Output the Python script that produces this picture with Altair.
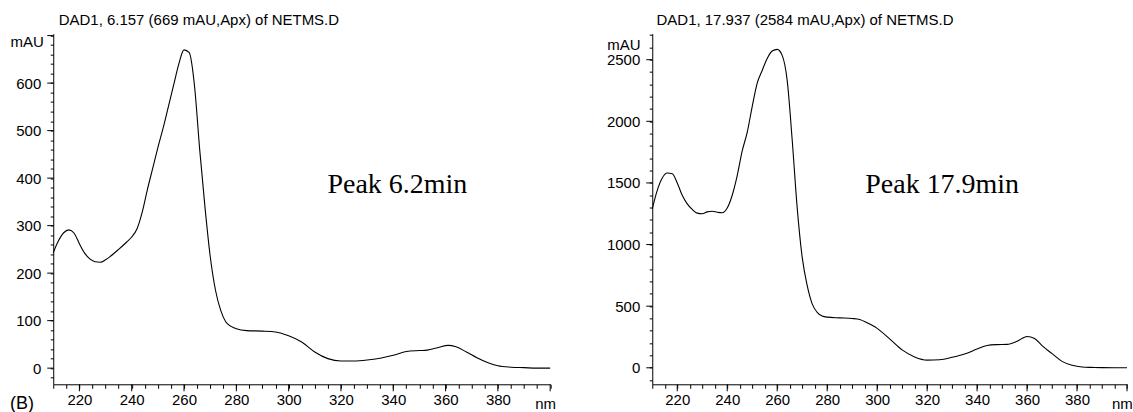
import altair as alt
import pandas as pd

# ---- data ----
nm_left = [210, 212, 214, 216, 218, 220, 222, 224, 226, 228, 230, 232, 235, 238, 240,
           242, 244, 246, 248, 250, 252, 254, 256, 258, 260, 262, 264, 266, 268, 270,
           272, 274, 276, 278, 280, 284, 290, 295, 300, 305, 310, 315, 320, 325, 330,
           335, 340, 345, 350, 353, 357, 361, 364, 368, 372, 376, 380, 385, 390, 395, 400]
mau_left = [243, 268, 285, 291, 284, 262, 242, 230, 224, 223, 228, 236, 250, 265, 276,
            293, 328, 376, 420, 464, 505, 550, 595, 640, 670, 664, 595, 460, 340, 236,
            165, 122, 97, 88, 83, 79, 78, 76, 68, 55, 34, 20, 15, 15, 17,
            21, 27, 35, 37, 38, 43, 48, 45, 34, 22, 12, 5, 2, 1, 0, 0]

nm_right = [210, 212, 214, 216, 218, 220, 222, 224, 226, 228, 230, 232, 234, 236, 238,
            240, 242, 244, 246, 248, 250, 252, 254, 256, 258, 260, 262, 264, 266, 268,
            270, 272, 274, 276, 278, 280, 285, 290, 293, 296, 300, 305, 310, 315, 320,
            325, 330, 335, 340, 344, 348, 352, 356, 360, 363, 366, 370, 374, 378, 382,
            386, 390, 395, 400]
mau_right = [1290, 1440, 1540, 1580, 1575, 1500, 1400, 1330, 1285, 1255, 1250, 1265, 1270, 1262, 1258,
             1296, 1400, 1560, 1760, 1910, 2120, 2310, 2413, 2510, 2570, 2584, 2535, 2332, 1850, 1300,
             898, 668, 519, 450, 420, 411, 405, 400, 392, 365, 320, 235, 145, 88, 62,
             65, 85, 112, 152, 181, 188, 190, 215, 254, 238, 180, 115, 52, 20, 6,
             3, 1, 0, 0]

titles = ["DAD1, 6.157 (669 mAU,Apx) of NETMS.D", "DAD1, 17.937 (2584 mAU,Apx) of NETMS.D"]
peaks = ["Peak 6.2min", "Peak 17.9min"]
y_unit = ["mAU"]
x_unit = ["nm"]
panel_tag = ["(B)"]

# tick positions (minor) and labelled / long ticks (major)
x_ticks = list(range(210, 401, 5))
x_major = list(range(220, 401, 20))
y_ticks_left = list(range(-20, 701, 20))
y_major_left = list(range(0, 701, 100))
y_ticks_right = list(range(-100, 2701, 100))
y_major_right = list(range(0, 2501, 500))

H = 351
W1 = 497.5
W2 = 475.3
SANS = "Liberation Sans"
SERIF = "Liberation Serif"
TICK = "black"


def one_row(key, value):
    return pd.DataFrame({key: [value]})


def panel(nm, mau, ydom, yticks, ymajor_vals, ymajor, ylabel_max, title, peak, width,
          title_x, mau_x, mau_y, peak_x, tag=False):
    df = pd.DataFrame({"nm": nm, "mAU": mau})
    x_enc = alt.X(
        "nm:Q",
        title=None,
        scale=alt.Scale(domain=[210, 400], nice=False, zero=False),
        axis=alt.Axis(
            values=x_ticks,
            format="d",
            labelExpr="(datum.value % 20 === 0 && datum.value < 400) ? datum.label : ''",
            ticks=True,
            tickSize=4,
            tickColor=TICK,
            labelPadding=4,
            labelFlush=False,
            labelOverlap=False,
        ),
    )
    y_enc = alt.Y(
        "mAU:Q",
        title=None,
        scale=alt.Scale(domain=ydom, nice=False, zero=False),
        axis=alt.Axis(
            values=yticks,
            format="d",
            labelExpr=f"(datum.value % {ymajor} === 0 && datum.value <= {ylabel_max}) ? datum.label : ''",
            ticks=True,
            tickSize=3,
            tickColor=TICK,
            labelPadding=9.5,
            labelFlush=False,
            labelOverlap=False,
        ),
    )
    line = alt.Chart(df).mark_line(color="black", strokeWidth=1.1, interpolate="monotone").encode(
        x=x_enc, y=y_enc
    )
    # longer (major) ticks
    ymaj = alt.Chart(pd.DataFrame({"mAU": ymajor_vals})).mark_rule(color=TICK, strokeWidth=1).encode(
        y=y_enc, x=alt.value(-6), x2=alt.value(0)
    )
    xmaj = alt.Chart(pd.DataFrame({"nm": x_major})).mark_rule(color=TICK, strokeWidth=1).encode(
        x=x_enc, y=alt.value(H), y2=alt.value(H + 7)
    )
    t_title = alt.Chart(one_row("t", title)).mark_text(
        align="left", baseline="middle", font=SANS, fontSize=15, color="black"
    ).encode(text="t:N", x=alt.value(title_x), y=alt.value(-14))
    t_unit = alt.Chart(one_row("t", y_unit[0])).mark_text(
        align="right", baseline="middle", font=SANS, fontSize=15, color="black"
    ).encode(text="t:N", x=alt.value(mau_x), y=alt.value(mau_y))
    t_peak = alt.Chart(one_row("t", peak)).mark_text(
        align="left", baseline="alphabetic", font=SERIF, fontSize=28, color="black"
    ).encode(text="t:N", x=alt.value(peak_x), y=alt.value(159))
    t_nm = alt.Chart(one_row("t", x_unit[0])).mark_text(
        align="left", baseline="alphabetic", font=SANS, fontSize=15, color="black"
    ).encode(text="t:N", x=alt.value(width - 15), y=alt.value(H + 24.5))
    layers = [line, ymaj, xmaj, t_title, t_unit, t_peak, t_nm]
    if tag:
        t_tag = alt.Chart(one_row("t", panel_tag[0])).mark_text(
            align="left", baseline="alphabetic", font=SANS, fontSize=18, color="black"
        ).encode(text="t:N", x=alt.value(-43.2), y=alt.value(H + 25))
        layers.append(t_tag)
    return alt.layer(*layers).properties(width=width, height=H)


left = panel(nm_left, mau_left, [-34, 704], y_ticks_left, y_major_left, 100, 600,
             titles[0], peaks[0], W1, 5.5, -9.5, 8, 274.5, tag=True)
right = panel(nm_right, mau_right, [-134, 2711], y_ticks_right, y_major_right, 500, 2500,
              titles[1], peaks[1], W2, 4.3, -11.7, 11, 213.3)

chart = alt.hconcat(left, right, spacing=101.7, bounds="flush").properties(
    padding={"left": 9.3, "top": 12.5, "right": 0, "bottom": 0},
    background="white",
).configure_view(stroke=None).configure_axis(
    grid=False,
    domainColor="black",
    domainWidth=1,
    tickWidth=1,
    labelColor="black",
    labelFont=SANS,
    labelFontSize=15,
)

chart.save("out.html", embed_options={"renderer": "svg", "actions": False})
